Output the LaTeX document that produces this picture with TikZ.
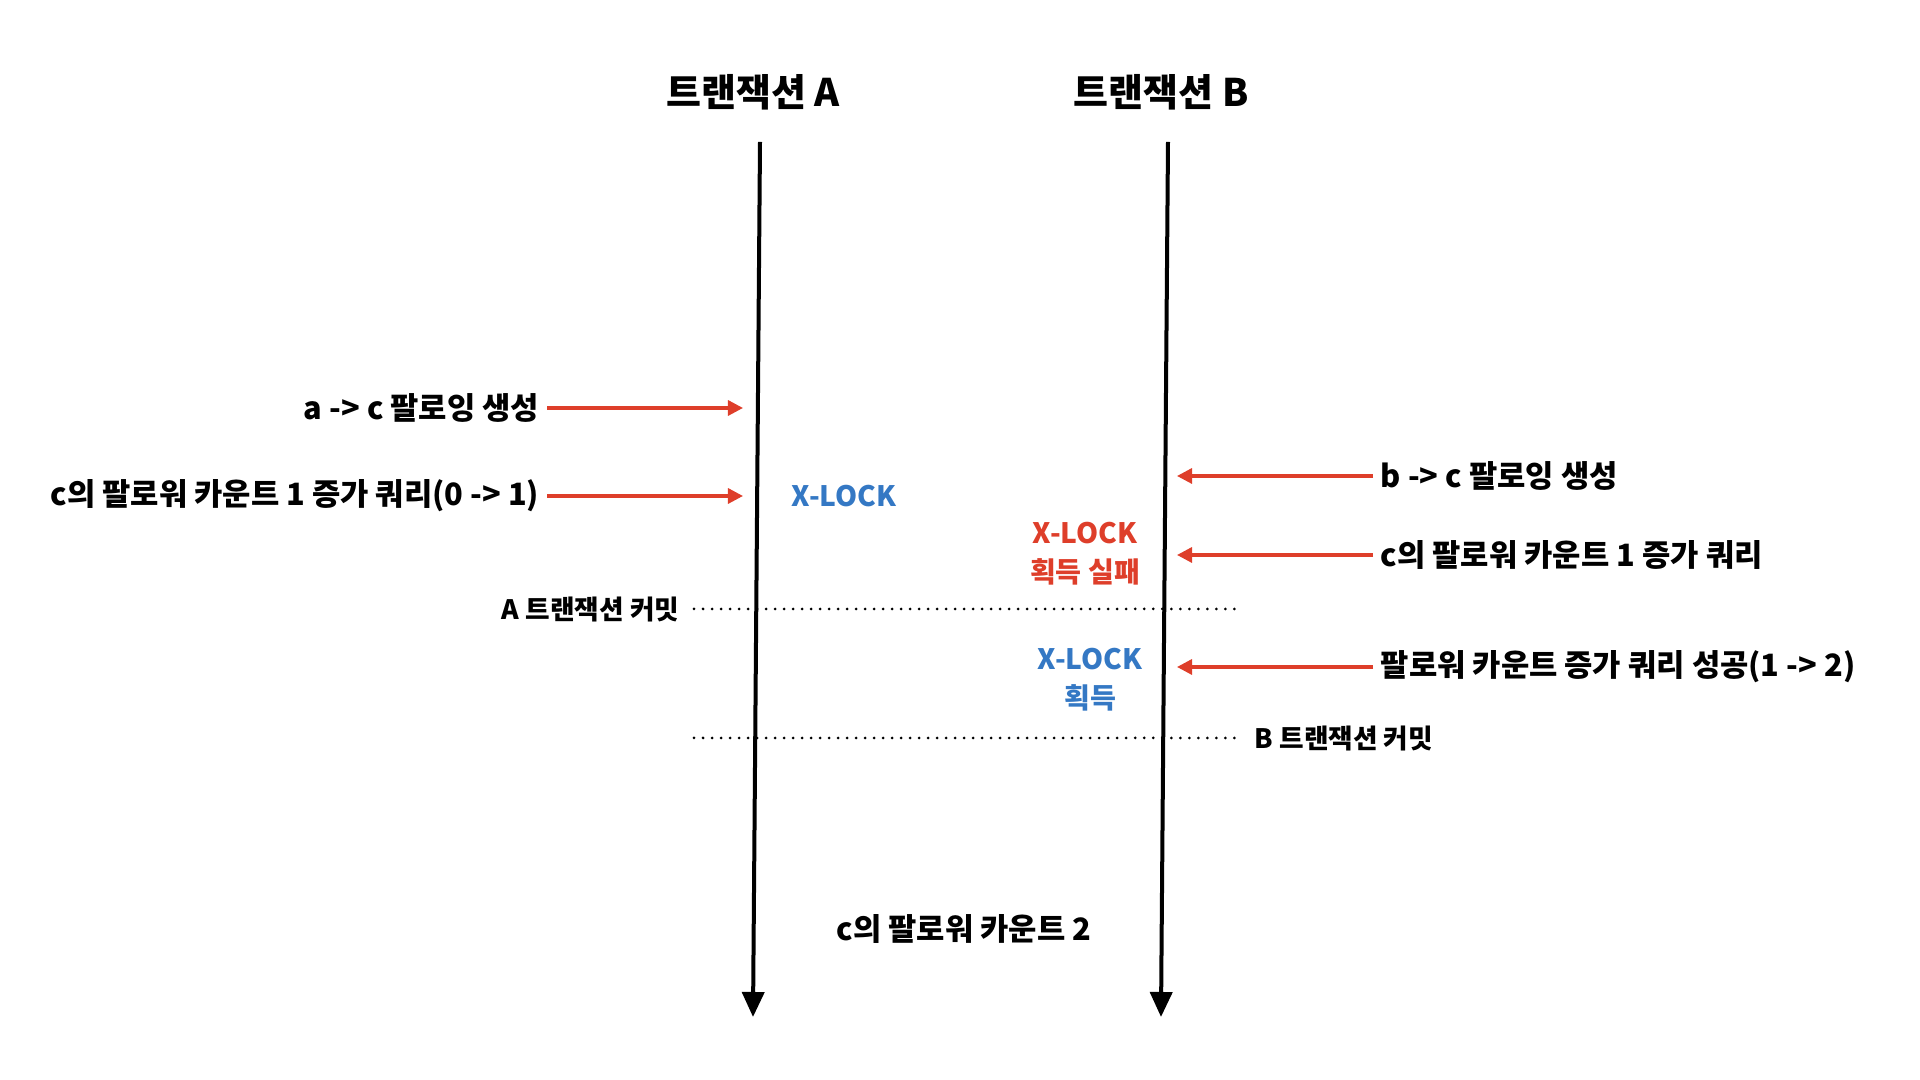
\documentclass[tikz,border=0pt]{standalone}
\usepackage{fontspec}
\setmainfont{Noto Sans CJK KR}
\usepackage{tikz}
\usetikzlibrary{arrows.meta}
\definecolor{msgred}{RGB}{222,62,42}
\definecolor{lockblue}{RGB}{52,120,196}

\begin{document}
\begin{tikzpicture}[x=0.01cm, y=-0.01cm, every node/.style={font=\bfseries\fontsize{8.75pt}{10pt}\selectfont, inner sep=2pt},
	lifeline/.style={line width=0.04cm, -{Triangle[length=0.25cm, width=0.22cm]}},
	msg/.style={msgred, line width=0.032cm, -{Triangle[length=0.15cm, width=0.15cm]}},
	commitline/.style={line width=0.03cm, line cap=round, dash pattern=on 0pt off 0.09cm},
	small/.style={font=\bfseries\fontsize{7.6pt}{9pt}\selectfont, inner sep=4pt},
	lock/.style={font=\bfseries\fontsize{8pt}{11pt}\selectfont, align=center}]
	\useasboundingbox (0,0) rectangle (1920,1080);
	\node[font=\bfseries\fontsize{10.8pt}{12pt}\selectfont] (tA) at (753,92) {트랜잭션 A};
	\node[font=\bfseries\fontsize{10.8pt}{12pt}\selectfont] (tB) at (1161,92) {트랜잭션 B};
	\coordinate (topA) at (760,142);
	\coordinate (endA) at (753,1017);
	\coordinate (topB) at (1168,142);
	\coordinate (endB) at (1161,1017);
	\draw[lifeline] (topA) -- (endA);
	\draw[lifeline] (topB) -- (endB);
	\node[anchor=east] (qa1) at (547,408) {a -> c 팔로잉 생성};
	\node[anchor=east] (qa2) at (547,496) {c의 팔로워 카운트 1 증가 쿼리(0 -> 1)};
	\coordinate (ha1) at (743,408);
	\coordinate (ha2) at (743,496);
	\draw[msg] (qa1) -- (ha1);
	\draw[msg] (qa2) -- (ha2);
	\node[lock, lockblue] (lkA) at (844,496) {X-LOCK};
	\node[anchor=west] (qb1) at (1373,476) {b -> c 팔로잉 생성};
	\node[anchor=west] (qb2) at (1373,555) {c의 팔로워 카운트 1 증가 쿼리};
	\node[anchor=west] (qb3) at (1373,667) {팔로워 카운트 증가 쿼리 성공(1 -> 2)};
	\coordinate (hb1) at (1177,476);
	\coordinate (hb2) at (1177,555);
	\coordinate (hb3) at (1177,667);
	\draw[msg] (qb1) -- (hb1);
	\draw[msg] (qb2) -- (hb2);
	\draw[msg] (qb3) -- (hb3);
	\node[lock, msgred] (failB) at (1085,554) {X-LOCK\\획득 실패};
	\node[lock, lockblue] (getB) at (1090,680) {X-LOCK\\획득};
	\node[small, anchor=east] (cmA) at (694,609) {A 트랜잭션 커밋};
	\coordinate (cmAend) at (1237,609);
	\draw[commitline] (cmA) -- (cmAend);
	\node[small, anchor=west] (cmB) at (1240,738) {B 트랜잭션 커밋};
	\coordinate (cmBstart) at (694,738);
	\draw[commitline] (cmBstart) -- (cmB);
	\node (res) at (964,929) {c의 팔로워 카운트 2};
\end{tikzpicture}
\end{document}
